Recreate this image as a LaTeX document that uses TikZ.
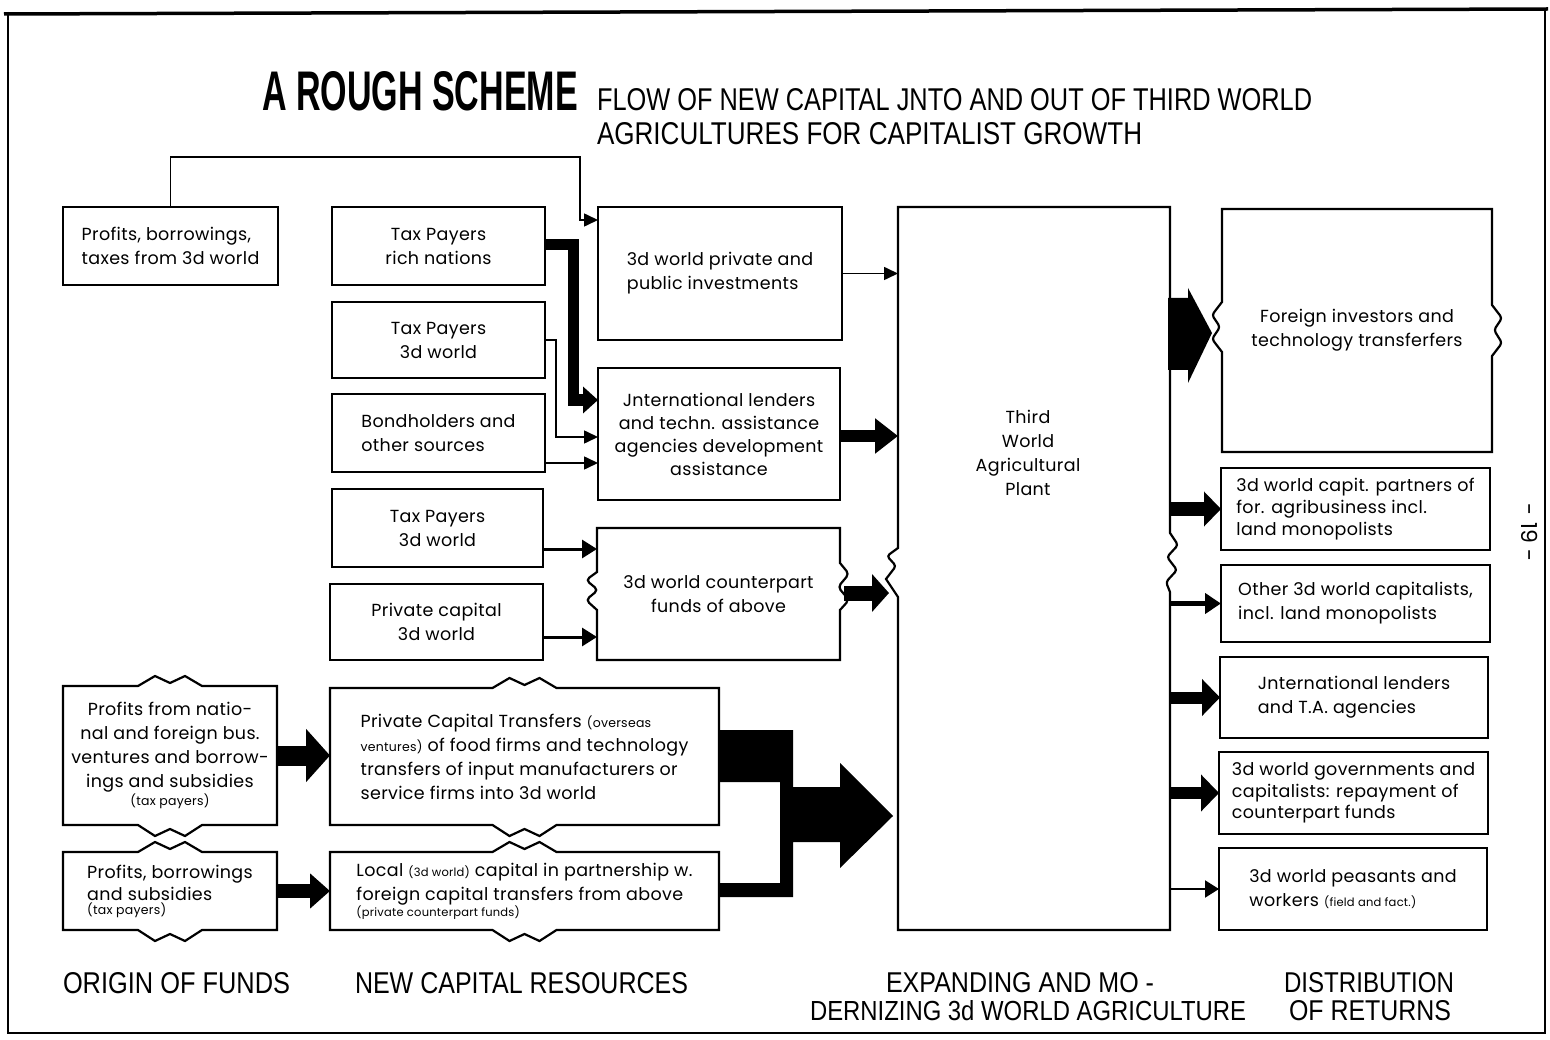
\documentclass[tikz,border=0pt]{standalone}
\usepackage{fontspec}
\setmainfont{Poppins}[LetterSpace=2]
\newfontfamily\condfont{Liberation Sans}
\usetikzlibrary{arrows.meta,calc}
\newcommand\bxfont{\fontsize{17.5}{24}\selectfont}
\newcommand\smf{\fontsize{12.5}{13}\selectfont}
\newcommand\tnf{\fontsize{11.5}{12}\selectfont}
\newcommand\fitt[3]{\resizebox{#1pt}{#2pt}{\condfont #3}}
\begin{document}
\begin{tikzpicture}[x=1pt,y=-1pt,
  bx/.style={draw, line width=2.2pt, inner sep=0pt, outer sep=0pt, align=center, font=\bxfont},
  nbx/.style={bx, draw=none},
  ln/.style={line width=2.2pt, line join=miter},
  fat/.style n args={3}{line width=#1pt, -{Triangle[length=#3pt,width=#2pt]}},
  thinarr/.style={line width=1.6pt, -{Triangle[length=14pt,width=13pt]}},
  medarr/.style={line width=3pt, -{Triangle[length=15pt,width=18pt]}},
  ttl/.style={anchor=base west, inner sep=0pt, outer sep=0pt}
]
\fill[white] (0,0) rectangle (1550,1040);
\useasboundingbox (0,0) rectangle (1550,1040);

% frame
\draw[line width=2pt] (8,12) -- (8,1033) -- (1545,1033) -- (1545,9);
\draw[line width=3.5pt] (4,14) -- (1548,9);

% titles
\node[ttl] (T1) at (262,111) {\resizebox{316pt}{39pt}{\condfont\bfseries A ROUGH SCHEME}};
\node[ttl] (T2) at (597,111) {\fitt{715}{22}{FLOW OF NEW CAPITAL JNTO AND OUT OF THIRD WORLD}};
\node[ttl] (T3) at (597,145) {\fitt{545}{22}{AGRICULTURES FOR CAPITALIST GROWTH}};

% origin of funds
\node[bx, minimum width=215pt, minimum height=78pt, align=left] (B1) at (170.5,246) {Profits, borrowings,\\taxes from 3d world};
\node[nbx, minimum width=214pt, minimum height=139pt] (O1) at (170,755.5) {Profits from natio-\\nal and foreign bus.\\ventures and borrow-\\ings and subsidies\\[-6pt]{\smf(tax payers)}};
\node[nbx, minimum width=214pt, minimum height=78pt, align=left] (O2) at (170,891) {Profits, borrowings\\[-2pt]and subsidies\\[-10pt]{\smf(tax payers)}};

% new capital resources
\node[bx, minimum width=213pt, minimum height=78pt] (M1) at (438.5,246) {Tax Payers\\rich nations};
\node[bx, minimum width=213pt, minimum height=76pt] (M2) at (438.5,340) {Tax Payers\\3d world};
\node[bx, minimum width=213pt, minimum height=78pt, align=left] (M3) at (438.5,433) {Bondholders and\\other sources};
\node[bx, minimum width=211pt, minimum height=78pt] (M4) at (437.5,528) {Tax Payers\\3d world};
\node[bx, minimum width=213pt, minimum height=76pt] (M5) at (436.5,622) {Private capital\\3d world};

\node[bx, minimum width=244pt, minimum height=133pt, align=left] (P1) at (720,273.5) {3d world private and\\public investments};
\node[bx, minimum width=242pt, minimum height=132pt] (P2) at (719,434) {Jnternational lenders\\[-1pt]and techn. assistance\\[-1pt]agencies development\\[-1pt]assistance};
\node[nbx, minimum width=243pt, minimum height=132pt] (P3) at (718.5,594) {3d world counterpart\\funds of above};

\node[nbx, minimum width=389pt, minimum height=137pt, align=left] (W1) at (524.5,756.5) {Private Capital Transfers {\smf(overseas}\\{\smf ventures)} of food firms and technology\\transfers of input manufacturers or\\service firms into 3d world};
\node[nbx, minimum width=389pt, minimum height=78pt, align=left] (W2) at (524.5,891) {Local {\tnf(3d world)} capital in partnership w.\\foreign capital transfers from above\\[-8pt]{\tnf(private counterpart funds)}};

% plant
\node[nbx, minimum width=272pt, minimum height=723pt] (PL) at (1034,568.5) {};
\node[font=\bxfont, align=center, inner sep=0pt] (PLt) at (1028,453) {Third\\World\\Agricultural\\Plant};

% distribution of returns
\node[nbx, minimum width=270pt, minimum height=243pt] (R1) at (1357,330.5) {Foreign investors and\\technology transferfers};
\node[bx, minimum width=269pt, minimum height=82pt, align=left] (R2) at (1355.5,509) {3d world capit. partners of\\[-2pt]for. agribusiness incl.\\[-2pt]land monopolists};
\node[bx, minimum width=269pt, minimum height=77pt, align=left] (R3) at (1355.5,603.5) {Other 3d world capitalists,\\incl. land monopolists};
\node[bx, minimum width=268pt, minimum height=81pt, align=left] (R4) at (1354,697.5) {Jnternational lenders\\and T.A. agencies};
\node[bx, minimum width=269pt, minimum height=82pt, align=left] (R5) at (1353.5,793) {3d world governments and\\[-2pt]capitalists: repayment of\\[-3pt]counterpart funds};
\node[bx, minimum width=268pt, minimum height=82pt, align=left] (R6) at (1353,889) {3d world peasants and\\workers {\tnf(field and fact.)}};

% jagged borders
\newcommand\jagbox[1]{%
 \draw[ln] (#1.north west) -- ([xshift=-32pt]#1.north) -- ([xshift=-15pt,yshift=10pt]#1.north) -- ([yshift=3pt]#1.north) -- ([xshift=15pt,yshift=10pt]#1.north) -- ([xshift=32pt]#1.north) -- (#1.north east) -- (#1.south east) -- ([xshift=32pt]#1.south) -- ([xshift=15pt,yshift=-11pt]#1.south) -- ([yshift=-4pt]#1.south) -- ([xshift=-15pt,yshift=-11pt]#1.south) -- ([xshift=-32pt]#1.south) -- (#1.south west) -- cycle;}
\jagbox{O1}
\jagbox{O2}
\jagbox{W1}
\jagbox{W2}

\draw[ln] (P3.north west) -- (P3.north east) -- ([yshift=31pt]P3.east) [rounded corners=4pt] -- ([xshift=9pt,yshift=20pt]P3.east) -- ([xshift=-2pt,yshift=7pt]P3.east) -- ([xshift=9pt,yshift=-6pt]P3.east) [sharp corners] -- ([yshift=-16pt]P3.east) -- (P3.south east) -- (P3.south west) -- ([yshift=-16pt]P3.west) [rounded corners=4pt] -- ([xshift=-11pt,yshift=-6pt]P3.west) -- ([xshift=1pt,yshift=4pt]P3.west) -- ([xshift=-11pt,yshift=14pt]P3.west) [sharp corners] -- ([yshift=22pt]P3.west) -- cycle;

\draw[ln] (PL.north west) -- (PL.north east) -- (1170,533) [rounded corners=3pt] -- (1178,545) -- (1167,557) -- (1177,570) -- (1166,582) [sharp corners] -- (1170,592) -- (PL.south east) -- (PL.south west) -- (898,597) -- (886,579) [rounded corners=3pt] -- (896,566) -- (887,556) [sharp corners] -- (898,548) -- cycle;

\draw[ln] (R1.north west) -- (R1.north east) -- (1492,305) [rounded corners=3pt] -- (1502,318) -- (1494,330) -- (1502,343) [sharp corners] -- (1492,356) -- (R1.south east) -- (R1.south west) -- (1222,352) [rounded corners=3pt] -- (1212,339) -- (1220,327) -- (1212,315) [sharp corners] -- (1222,302) -- cycle;

% connectors: origin -> resources
\coordinate (b1k) at (580,157);
\coordinate (b1t) at ([yshift=-13pt]P1.north west);
\draw[thinarr] (B1.north) |- (b1k) |- (b1t);
\draw[fat={20}{52}{24}] (O1.east) -- (O1.east -| W1.west);
\draw[fat={14}{34}{20}] (O2.east) -- (O2.east -| W2.west);

% resources -> agencies
\coordinate (m1a) at ([yshift=1pt]M1.east);
\coordinate (m1b) at (573,245);
\coordinate (m1c) at ([yshift=34pt]P2.west);
\draw[line width=11pt, line join=miter, -{Triangle[length=15pt,width=26pt]}] (m1a) -- (m1b) |- (m1c);
\coordinate (m2b) at (556,340);
\coordinate (m2c) at ([yshift=-3pt]P2.west);
\draw[thinarr] (M2.east) -- (m2b) |- (m2c);
\coordinate (m3a) at ([yshift=-30pt]M3.east);
\draw[thinarr] (m3a) -- (m3a -| P2.west);
\coordinate (m4a) at ([yshift=-21pt]M4.east);
\draw[medarr] (m4a) -- (m4a -| P3.west);
\coordinate (m5a) at ([yshift=-15pt]M5.east);
\draw[medarr] (m5a) -- (m5a -| P3.west);

% agencies -> plant
\draw[thinarr] (P1.east) -- (P1.east -| PL.west);
\coordinate (p2a) at ([yshift=-2pt]P2.east);
\draw[fat={12}{34}{23}] (p2a) -- (p2a -| PL.west);
\coordinate (p3a) at ([yshift=1pt]P3.east);
\coordinate (p3t) at (p3a -| PL.west);
\draw[fat={15}{37}{17}] ([xshift=4pt]p3a) -- ([xshift=-9pt]p3t);

% big stippled arrow from private transfers
\fill[black] (719,730) -- (793,730) -- (793,787) -- (840,787) -- (840,763) -- (893,816) -- (840,868) -- (840,842) -- (793,842) -- (793,897) -- (719,897) -- (719,883) -- (780,883) -- (780,782) -- (719,782) -- cycle;

% plant -> returns
\fill[black] (1168,298) -- (1188,298) -- (1188,288) -- (1212,333) -- (1188,383) -- (1188,370) -- (1168,370) -- cycle;
\draw[fat={14}{34}{17}] (R2.west -| PL.east) -- (R2.west);
\draw[fat={5}{20}{16}] (R3.west -| PL.east) -- (R3.west);
\draw[fat={12}{36}{18}] (R4.west -| PL.east) -- (R4.west);
\draw[fat={12}{36}{18}] (R5.west -| PL.east) -- (R5.west);
\draw[fat={2}{17}{14}] (R6.west -| PL.east) -- (R6.west);

% footer labels
\node[ttl] (F1) at (63,993) {\fitt{227}{21}{ORIGIN OF FUNDS}};
\node[ttl] (F2) at (355,993) {\fitt{333}{21}{NEW CAPITAL RESOURCES}};
\node[ttl] (F3a) at (886,992) {\fitt{268}{20}{EXPANDING AND MO -}};
\node[ttl] (F3b) at (810,1020) {\fitt{436}{20}{DERNIZING 3d WORLD AGRICULTURE}};
\node[ttl] (F4a) at (1284,992) {\fitt{170}{20}{DISTRIBUTION}};
\node[ttl] (F4b) at (1289,1020) {\fitt{162}{20}{OF RETURNS}};

\node[rotate=-90, font=\fontsize{22}{22}\selectfont] (pg) at (1530,533) {- 19 -};
\end{tikzpicture}
\end{document}
